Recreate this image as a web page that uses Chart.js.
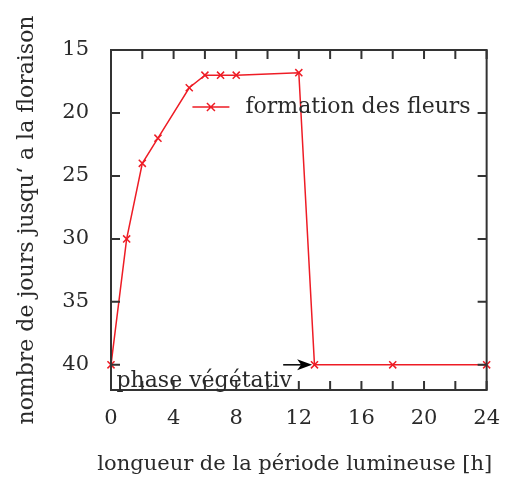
<!DOCTYPE html>
<html>
<head>
<meta charset="utf-8">
<script src="https://cdn.jsdelivr.net/npm/chart.js@4"></script>
<style>
  html, body { margin: 0; padding: 0; background: #fff; }
  #wrap { width: 516px; height: 480px; }
</style>
</head>
<body>
<div id="wrap"><canvas id="chart" width="516" height="480"></canvas></div>
<script>
// hours of light per day
var hours = [0, 1, 2, 3, 5, 6, 7, 8, 12, 13, 18, 24];
// days until flowering
var days = [40, 30, 24, 22, 18, 17, 17, 17, 16.8, 40, 40, 40];
var seriesLabel = 'formation des fleurs';
var xTitle = 'longueur de la période lumineuse [h]';
var yTitle = 'nombre de jours jusqu‘ a la floraison';
var xRange = [0, 24];
var yRange = [15, 42];
// annotation: label + arrow, in data units
var noteText = 'phase végétativ';
var notePos = [0.35, 41.75];
var arrowFrom = [11.0, 40];
var arrowTo = [12.85, 40];

var FONT = '"DejaVu Serif", serif';
var INK = '#2a2a2a';
var RED = '#ee1c25';

var ctx = document.getElementById('chart');

var framePlugin = {
    id: 'frame',
    afterDatasetsDraw: function (chart) {
        var c = chart.ctx, a = chart.chartArea;
        var xs = chart.scales.x, ys = chart.scales.y;
        c.save();
        c.strokeStyle = '#333';
        c.lineWidth = 2;
        c.strokeRect(a.left, a.top, a.width, a.height);
        c.beginPath();
        xs.ticks.forEach(function (t) {
            var px = xs.getPixelForValue(t.value);
            c.moveTo(px, a.bottom); c.lineTo(px, a.bottom - 9);
            c.moveTo(px, a.top); c.lineTo(px, a.top + 9);
        });
        ys.ticks.forEach(function (t) {
            var py = ys.getPixelForValue(t.value);
            c.moveTo(a.left, py); c.lineTo(a.left + 9, py);
            c.moveTo(a.right, py); c.lineTo(a.right - 9, py);
        });
        c.stroke();

        // arrow
        var x0 = xs.getPixelForValue(arrowFrom[0]), y0 = ys.getPixelForValue(arrowFrom[1]);
        var x1 = xs.getPixelForValue(arrowTo[0]), y1 = ys.getPixelForValue(arrowTo[1]);
        c.strokeStyle = '#000';
        c.fillStyle = '#000';
        c.lineWidth = 1.5;
        c.beginPath(); c.moveTo(x0, y0); c.lineTo(x1 - 8, y1); c.stroke();
        c.beginPath();
        c.moveTo(x1, y1); c.lineTo(x1 - 15, y1 - 5.5); c.lineTo(x1 - 11, y1); c.lineTo(x1 - 15, y1 + 5.5);
        c.closePath(); c.fill();

        // note
        c.font = '22px ' + FONT;
        c.fillStyle = INK;
        c.textAlign = 'left';
        c.textBaseline = 'alphabetic';
        c.fillText(noteText, xs.getPixelForValue(notePos[0]), ys.getPixelForValue(notePos[1]));

        // legend inside plot, top right
        var ly = a.top + 57;
        var tx = a.right - 16;
        c.textAlign = 'right';
        c.textBaseline = 'middle';
        c.fillText(seriesLabel, tx, ly);
        var w = c.measureText(seriesLabel).width;
        var sx1 = tx - w - 16, sx0 = sx1 - 37, mx = (sx0 + sx1) / 2;
        c.strokeStyle = RED;
        c.lineWidth = 1.5;
        c.beginPath();
        c.moveTo(sx0, ly); c.lineTo(sx1, ly);
        c.moveTo(mx - 4, ly - 4); c.lineTo(mx + 4, ly + 4);
        c.moveTo(mx - 4, ly + 4); c.lineTo(mx + 4, ly - 4);
        c.stroke();

        // x axis title (drawn here so it may be wider than the plot)
        c.font = '21px ' + FONT;
        c.textAlign = 'center';
        c.textBaseline = 'middle';
        c.fillText(xTitle, (a.left + a.right) / 2 - 4, xs.bottom - 15);
        c.restore();
    }
};

var chart = new Chart(ctx, {
    type: 'line',
    data: {
        datasets: [{
            label: seriesLabel,
            data: hours.map(function (h, i) { return { x: h, y: days[i] }; }),
            borderColor: RED,
            backgroundColor: RED,
            borderWidth: 1.5,
            pointStyle: 'crossRot',
            pointRadius: 5,
            pointBorderWidth: 1.5,
            tension: 0,
            clip: false
        }]
    },
    options: {
        responsive: false,
        animation: false,
        layout: { padding: { top: 50, right: 27, left: 0, bottom: 0 } },
        plugins: { legend: { display: false }, tooltip: { enabled: false } },
        scales: {
            x: {
                type: 'linear',
                min: xRange[0], max: xRange[1],
                border: { display: false },
                grid: { display: false, drawTicks: false },
                afterFit: function (s) { s.height = 90; },
                ticks: {
                    stepSize: 2,
                    padding: 16,
                    color: INK,
                    font: { family: FONT, size: 21 },
                    maxRotation: 0,
                    autoSkip: false,
                    callback: function (v) { return v % 4 === 0 ? String(v) : ''; }
                },
                title: { display: false }
            },
            y: {
                type: 'linear',
                reverse: true,
                min: yRange[0], max: yRange[1],
                border: { display: false },
                grid: { display: false, drawTicks: false },
                afterFit: function (s) { s.width = 111; },
                ticks: {
                    stepSize: 5,
                    includeBounds: false,
                    padding: 22,
                    color: INK,
                    font: { family: FONT, size: 21 }
                },
                title: {
                    display: true, text: yTitle, color: INK,
                    font: { family: FONT, size: 22 },
                    padding: { top: 14, bottom: 0 }
                }
            }
        }
    },
    plugins: [framePlugin]
});
</script>
</body>
</html>
